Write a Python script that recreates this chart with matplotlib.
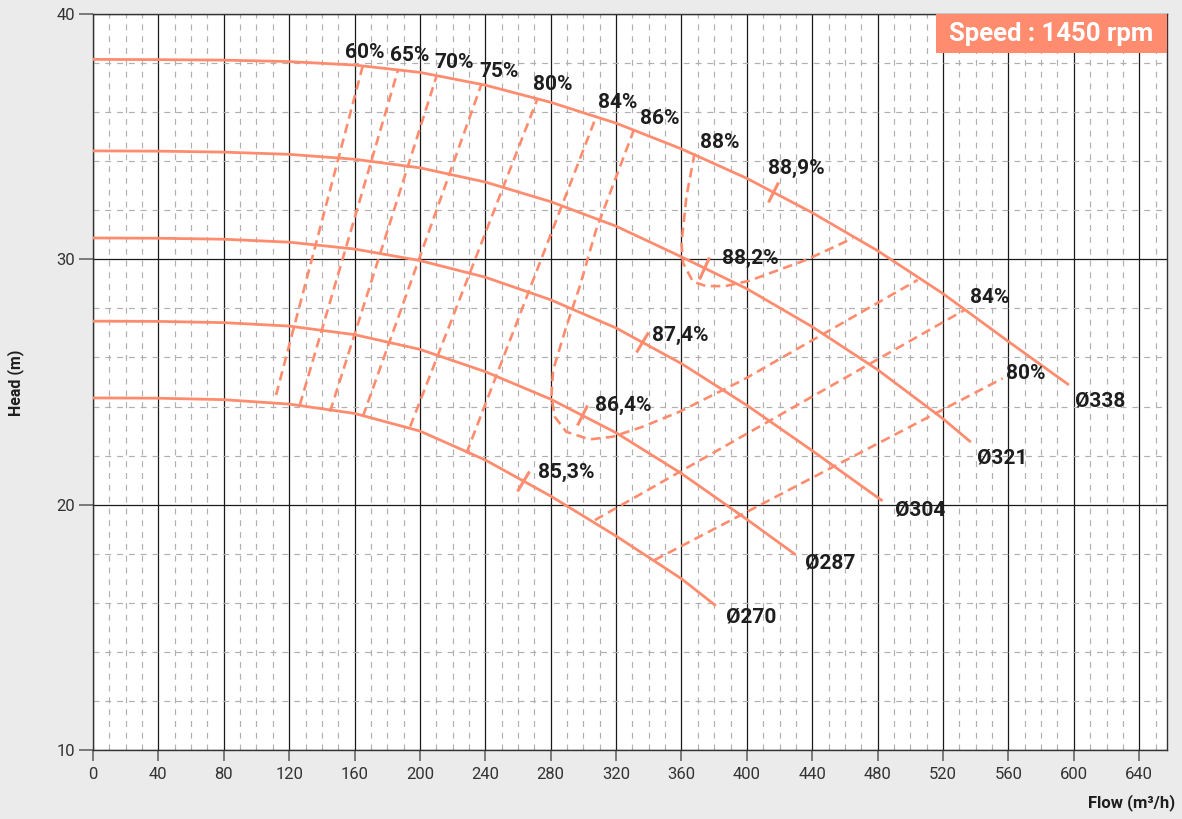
import numpy as np
import matplotlib
matplotlib.use("Agg")
import matplotlib.pyplot as plt
from matplotlib.markers import MarkerStyle
from matplotlib.transforms import Affine2D
from matplotlib.patches import Rectangle

plt.rcParams['font.family'] = ['Roboto', 'DejaVu Sans']

# --- impeller curves: flow (m3/h) -> head (m) ---
flow_338 = [0, 40, 80, 120, 160, 200, 240, 280, 320, 360, 400, 440, 480, 520, 560, 597]
head_338 = [38.15, 38.14, 38.12, 38.06, 37.92, 37.62, 37.10, 36.40, 35.55, 34.50, 33.30, 31.90, 30.35, 28.60, 26.65, 24.88]

flow_321 = [0, 40, 80, 120, 160, 200, 240, 280, 320, 360, 400, 440, 480, 520, 537]
head_321 = [34.42, 34.41, 34.37, 34.28, 34.08, 33.73, 33.15, 32.35, 31.35, 30.10, 28.80, 27.25, 25.50, 23.50, 22.55]

flow_304 = [0, 40, 80, 120, 160, 200, 240, 280, 320, 360, 400, 440, 483]
head_304 = [30.87, 30.86, 30.82, 30.70, 30.42, 29.95, 29.27, 28.35, 27.20, 25.75, 24.05, 22.20, 20.15]

flow_287 = [0, 40, 80, 120, 160, 200, 240, 280, 320, 360, 400, 430]
head_287 = [27.48, 27.47, 27.42, 27.28, 26.93, 26.33, 25.42, 24.30, 22.93, 21.27, 19.40, 17.95]

flow_270 = [0, 40, 80, 120, 160, 200, 240, 280, 320, 360, 381]
head_270 = [24.35, 24.34, 24.28, 24.10, 23.72, 23.00, 21.82, 20.35, 18.72, 16.98, 15.88]

diameters = ['Ø338', 'Ø321', 'Ø304', 'Ø287', 'Ø270']
curve_flows = [flow_338, flow_321, flow_304, flow_287, flow_270]
curve_heads = [head_338, head_321, head_304, head_287, head_270]

# best efficiency point of each impeller
bep_flow = [416, 374, 336, 299, 263]
bep_eff = ['88,9%', '88,2%', '87,4%', '86,4%', '85,3%']

# --- iso-efficiency lines ---
eff_60_q = [112, 165]
eff_60_h = [24.47, 37.88]
eff_65_q = [126.5, 186.6]
eff_65_h = [24.06, 37.72]
eff_70_q = [145, 210]
eff_70_h = [23.79, 37.44]
eff_75_q = [165, 237.6]
eff_75_h = [23.58, 37.13]
eff_80_q = [194, 272]
eff_80_h = [23.18, 36.56]
eff_84_q = [228.4, 308]
eff_84_h = [22.09, 35.85]
eff_86_q = [331, 307.7, 297.7, 289.5, 281.5, 280.4, 282.5, 289.5, 303.8, 318, 336.4, 358.8, 397.5, 504.5]
eff_86_h = [35.30, 31.19, 28.88, 27.25, 25.49, 24.40, 23.58, 22.97, 22.66, 22.77, 23.18, 23.79, 25.08, 29.16]
eff_88_q = [368, 363, 360, 361, 367, 375, 387, 401.6, 436, 464.8]
eff_88_h = [34.32, 32.55, 30.65, 29.84, 29.09, 28.91, 28.91, 29.13, 29.97, 30.86]
eff_84r_q = [307, 533]
eff_84r_h = [19.37, 27.93]
eff_80r_q = [343.5, 556.5]
eff_80r_h = [17.74, 25.15]

iso_q = [eff_60_q, eff_65_q, eff_70_q, eff_75_q, eff_80_q, eff_84_q, eff_86_q, eff_88_q, eff_84r_q, eff_80r_q]
iso_h = [eff_60_h, eff_65_h, eff_70_h, eff_75_h, eff_80_h, eff_84_h, eff_86_h, eff_88_h, eff_84r_h, eff_80r_h]
iso_names = ['60%', '65%', '70%', '75%', '80%', '84%', '86%', '88%', '84%', '80%']

# label placement (data coords)
iso_label_xy = [(166, 38.45), (194, 38.29), (221, 38.04), (248.5, 37.64), (281, 37.11),
                (321, 36.41), (346.5, 35.76), (383.5, 34.78), (548.5, 28.46), (570.5, 25.36)]
bep_label_xy = [(413, 33.72), (384.5, 30.05), (342, 26.91), (307, 24.06), (272, 21.33)]
dia_label_xy = [(600.5, 24.22), (541, 21.9), (490.5, 19.78), (435.5, 17.62), (387, 15.42)]

salmon = '#ff8c6e'
ink = '#1e1e1e'

fig = plt.figure(figsize=(11.82, 8.19), dpi=100, facecolor='#ebebeb')
ax = fig.add_axes([93 / 1182, 1 - 750 / 819, (1167 - 93) / 1182, (750 - 14) / 819])
ax.set_facecolor('white')
ax.set_xlim(0, 657)
ax.set_ylim(10, 40)

ax.set_xticks(np.arange(0, 641, 40))
ax.set_xticks(np.arange(0, 657, 10), minor=True)
ax.set_yticks([10, 20, 30, 40])
ax.set_yticks(np.arange(10, 41, 2), minor=True)
ax.grid(which='major', color='#1a1a1a', lw=0.9, ls='-')
ax.grid(which='minor', color='#b0b0b0', lw=0.85, ls=(0, (5, 5)))
ax.set_axisbelow(True)
ax.tick_params(which='minor', length=0)
ax.tick_params(axis='x', which='major', length=8, width=1.2, color='#666666', labelsize=12, labelcolor='#333333', pad=4)
ax.tick_params(axis='y', which='major', length=10, width=1.2, color='#666666', labelsize=12, labelcolor='#333333', pad=3)
for s in ax.spines.values():
    s.set_color('#333333')
    s.set_linewidth(1.0)

# impeller curves
for name, q, h, lxy in zip(diameters, curve_flows, curve_heads, dia_label_xy):
    ax.plot(q, h, color=salmon, lw=2.0, solid_capstyle='butt', zorder=3)
    ax.text(lxy[0], lxy[1], name, fontsize=15, fontweight='bold', color=ink, ha='left', va='center', zorder=6)

# iso-efficiency dashed lines
for q, h, name, lxy in zip(iso_q, iso_h, iso_names, iso_label_xy):
    ax.plot(q, h, color=salmon, lw=1.9, ls=(0, (3.6, 2.1)), zorder=3)
    ax.text(lxy[0], lxy[1], name, fontsize=15, fontweight='bold', color=ink, ha='center', va='center', zorder=6)

# BEP tick marks across each curve
for q, h, qb, eff, lxy in zip(curve_flows, curve_heads, bep_flow, bep_eff, bep_label_xy):
    hb = np.interp(qb, q, h)
    p0 = ax.transData.transform((qb - 8, np.interp(qb - 8, q, h)))
    p1 = ax.transData.transform((qb + 8, np.interp(qb + 8, q, h)))
    ang = np.degrees(np.arctan2(p1[1] - p0[1], p1[0] - p0[0]))
    mk = MarkerStyle('|', transform=Affine2D().rotate_deg(ang))
    ax.plot([qb], [hb], ls='none', marker=mk, markersize=17, markeredgewidth=2.2, color=salmon, zorder=4)
    ax.text(lxy[0], lxy[1], eff, fontsize=15, fontweight='bold', color=ink, ha='left', va='center', zorder=6)

# speed badge
ax.add_patch(Rectangle((0.785, 0.9466), 0.215, 0.0534, transform=ax.transAxes,
                       facecolor=salmon, edgecolor='none', zorder=7, clip_on=False))
ax.text(0.8925, 0.9733, 'Speed : 1450 rpm', transform=ax.transAxes, fontsize=18.5, fontweight='bold',
        color='white', ha='center', va='center', zorder=8)

fig.text(0.0135, 0.532, 'Head (m)', rotation=90, fontsize=11.5, fontweight='bold', color=ink, ha='center', va='center')
fig.text(1175 / 1182, 1 - 803 / 819, 'Flow (m³/h)', fontsize=12, fontweight='bold', color=ink, ha='right', va='center')

fig.savefig('out.png', dpi=100, facecolor=fig.get_facecolor())
